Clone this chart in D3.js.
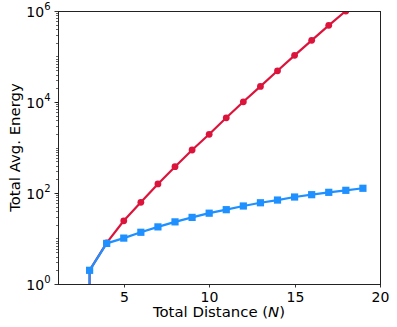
<!DOCTYPE html>
<html>
<head>
<meta charset="utf-8">
<script src="https://cdn.jsdelivr.net/npm/d3@7"></script>
<style>
  body { margin: 0; background: #fff; }
  text { font-family: "DejaVu Sans", sans-serif; fill: #000; }
</style>
</head>
<body>
<svg id="chart"></svg>
<script>
// Data
const distances = [2, 3, 4, 5, 6, 7, 8, 9, 10, 11, 12, 13, 14, 15, 16, 17, 18, 19];
const redEnergy = [0, 2, 8, 24.5, 62.5, 158, 379, 881, 1950, 4500, 10100, 22000, 48500, 106000, 227000, 485000, 1.0e6, 2.15e6];
const blueEnergy = [0, 2, 7.8, 10.2, 13.7, 18, 23.2, 29.1, 36, 43, 51.8, 61, 70, 81.6, 91.8, 103.5, 114.5, 127];
const xTicks = [5, 10, 15, 20];
const yTickExponents = [0, 2, 4, 6];
const xLabel = "Total Distance (";
const yLabel = "Total Avg. Energy";

// Set up chart dimensions
const W = 397, H = 327;
const margin = { top: 11, right: 17, bottom: 43, left: 58 };
const width = W - margin.left - margin.right;
const height = H - margin.top - margin.bottom;

const svg = d3.select("#chart").attr("width", W).attr("height", H);
const g = svg.append("g").attr("transform", "translate(" + margin.left + "," + margin.top + ")");

const x = d3.scaleLinear().domain([1.15, 20]).range([0, width]);
const y = d3.scaleLog().domain([1, 1e6]).range([height, 0]);
// non-positive values clipped to a tiny number, like matplotlib does
const yPos = (v) => y(Math.max(v, 1e-300));

g.append("clipPath").attr("id", "plot-clip")
  .append("rect").attr("width", width).attr("height", height);

// Minor y ticks
const minor = [];
for (let k = 0; k < 6; k++) for (let s = 2; s <= 10; s++) minor.push(s * Math.pow(10, k));
g.selectAll(".ytick-minor").data(minor.filter((v) => v < 1e6)).enter()
  .append("line")
  .attr("x1", 0).attr("x2", -2)
  .attr("y1", (d) => Math.round(y(d)) + 0.5).attr("y2", (d) => Math.round(y(d)) + 0.5)
  .attr("stroke", "#000").attr("stroke-width", 0.6);

// Major y ticks and labels
const yt = g.selectAll(".ytick").data(yTickExponents).enter().append("g")
  .attr("transform", (d) => "translate(0," + (Math.round(y(Math.pow(10, d))) + 0.5) + ")");
yt.append("line").attr("x1", 0).attr("x2", -3.5).attr("stroke", "#000").attr("stroke-width", 0.8);
const ytText = yt.append("text").attr("x", -7.5).attr("y", 5).attr("text-anchor", "end")
  .style("font-size", "14px");
ytText.append("tspan").text("10");
ytText.append("tspan").attr("dy", -6.5).style("font-size", "10px").text((d) => d);

// X ticks and labels
const xt = g.selectAll(".xtick").data(xTicks).enter().append("g")
  .attr("transform", (d) => "translate(" + (Math.round(x(d)) + 0.5) + "," + height + ")");
xt.append("line").attr("y1", 0).attr("y2", 3.5).attr("stroke", "#000").attr("stroke-width", 0.8);
xt.append("text").attr("y", 17.5).attr("text-anchor", "middle").style("font-size", "14px").text((d) => d);

// Lines and markers
const line = d3.line().x((d) => x(d[0])).y((d) => yPos(d[1]));
const plot = g.append("g").attr("clip-path", "url(#plot-clip)");

function drawSeries(values, color, shape) {
  const pts = distances.map((d, i) => [d, values[i]]);
  plot.append("path").datum(pts)
    .attr("d", line)
    .attr("fill", "none").attr("stroke", color).attr("stroke-width", 2.2)
    .attr("stroke-linejoin", "round");
  if (shape === "circle") {
    plot.selectAll(null).data(pts).enter().append("circle")
      .attr("cx", (d) => x(d[0])).attr("cy", (d) => yPos(d[1]))
      .attr("r", 3.4).attr("fill", color);
  } else {
    plot.selectAll(null).data(pts).enter().append("rect")
      .attr("x", (d) => x(d[0]) - 3.6).attr("y", (d) => yPos(d[1]) - 3.6)
      .attr("width", 7.2).attr("height", 7.2).attr("fill", color);
  }
}
drawSeries(redEnergy, "#dc143c", "circle");
drawSeries(blueEnergy, "#1e90ff", "square");

// Spines
g.append("rect").attr("x", 0.5).attr("y", 0.5).attr("width", width).attr("height", height)
  .attr("fill", "none").attr("stroke", "#222").attr("stroke-width", 1);

// Axis labels
const xl = g.append("text").attr("x", width / 2).attr("y", height + 33)
  .attr("text-anchor", "middle").style("font-size", "14.9px");
xl.append("tspan").text(xLabel);
xl.append("tspan").style("font-style", "italic").text("N");
xl.append("tspan").text(")");

g.append("text")
  .attr("transform", "translate(" + (19.5 - margin.left) + "," + height / 2 + ") rotate(-90)")
  .attr("text-anchor", "middle").style("font-size", "14.9px").text(yLabel);
</script>
</body>
</html>
